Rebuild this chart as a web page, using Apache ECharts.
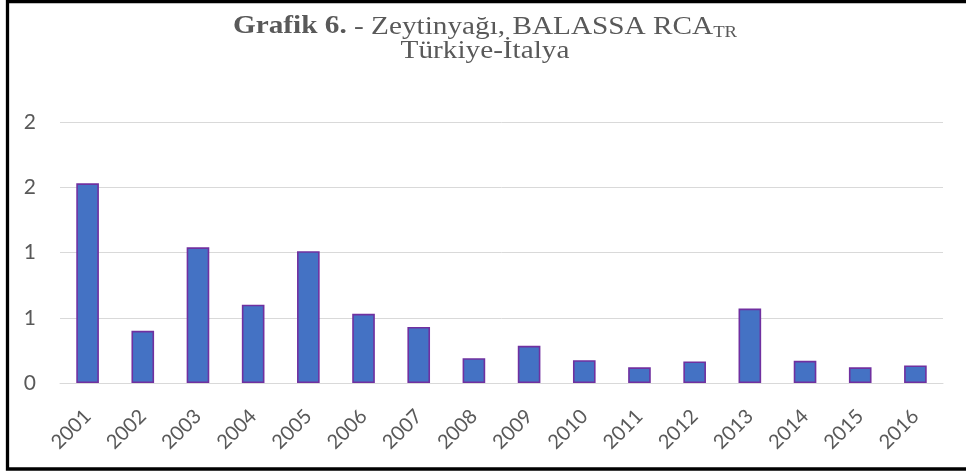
<!DOCTYPE html>
<html>
<head>
    <meta charset="utf-8">
    <title>Grafik 6</title>
    <script src="https://cdn.jsdelivr.net/npm/echarts@6/dist/echarts.min.js"></script>
    <style>
        html, body { margin: 0; padding: 0; background: #fff; }
    </style>
</head>
<body>
<div id="main" style="width: 966px;height:474px;"></div>
<script type="text/javascript">
    // veriler
    var years = ['2001', '2002', '2003', '2004', '2005', '2006', '2007', '2008',
                 '2009', '2010', '2011', '2012', '2013', '2014', '2015', '2016'];
    var rcaValues = [1.53, 0.40, 1.04, 0.60, 1.01, 0.53, 0.43, 0.19,
                     0.285, 0.175, 0.12, 0.165, 0.57, 0.17, 0.12, 0.135];
    var yTicks = [0, 0.5, 1, 1.5, 2];

    var myChart = echarts.init(document.getElementById('main'));

    var serif = 'Liberation Serif';
    var option = {
        backgroundColor: '#fff',
        animation: false,
        grid: {
            left: 60,
            right: 23,
            top: 122,
            bottom: 91
        },
        xAxis: {
            type: 'category',
            data: years,
            axisLine: { show: true, lineStyle: { color: '#d9d9d9', width: 1 } },
            axisTick: { show: false },
            axisLabel: {
                rotate: 45,
                margin: 30,
                color: '#595959',
                fontFamily: 'Lato',
                fontSize: 20
            }
        },
        yAxis: {
            type: 'value',
            min: yTicks[0],
            max: yTicks[yTicks.length - 1],
            interval: 0.5,
            axisLine: { show: false },
            axisTick: { show: false },
            splitLine: { lineStyle: { color: '#d9d9d9', width: 1 } },
            axisLabel: {
                margin: 24,
                color: '#595959',
                fontFamily: 'Lato',
                fontSize: 21,
                formatter: function (v) { return String(Math.round(v)); }
            }
        },
        series: [{
            type: 'bar',
            data: rcaValues,
            barWidth: '41%',
            itemStyle: {
                color: '#4472C4',
                borderColor: '#7030A0',
                borderWidth: 1.6
            }
        }],
        graphic: [{
            // başlık (yatayda biraz geniş)
            type: 'text',
            x: 485,
            y: 15,
            scaleX: 1.17,
            silent: true,
            style: {
                text: '{b|Grafik 6.}{r| - Zeytinyağı, BALASSA RCA}{s|TR}\n{r|Türkiye-İtalya}',
                align: 'center',
                verticalAlign: 'top',
                fill: '#595959',
                rich: {
                    b: { fontFamily: serif, fontWeight: 'bold', fontSize: 25, fill: '#595959', lineHeight: 24 },
                    r: { fontFamily: serif, fontWeight: 'normal', fontSize: 25, fill: '#595959', lineHeight: 24 },
                    s: { fontFamily: serif, fontWeight: 'normal', fontSize: 16, fill: '#595959', lineHeight: 16,
                         verticalAlign: 'top', padding: [10, 0, 0, 0] }
                }
            }
        }, {
            type: 'rect',
            shape: { x: 7.5, y: 1.5, width: 970, height: 467.5 },
            style: { fill: null, stroke: '#000', lineWidth: 3.3 },
            silent: true
        }]
    };

    myChart.setOption(option);
</script>
</body>
</html>
